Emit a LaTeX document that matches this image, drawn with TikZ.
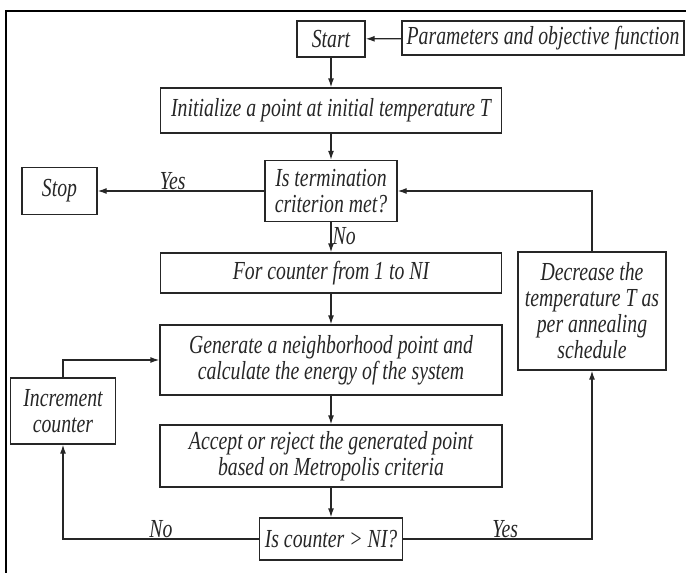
\documentclass[tikz,border=0pt]{standalone}
\usepackage{fontspec}
\newfontfamily\flowfont[FakeStretch=0.76]{Liberation Serif}
\usepackage{tikz}
\usetikzlibrary{arrows.meta}
\usetikzlibrary{positioning}
\tikzset{
	>={Latex[length=9pt,width=6pt]},
	block/.style={draw=black!85, line width=1.3pt, align=center, inner sep=2pt,
		font=\flowfont\itshape\fontsize{26}{26}\selectfont, text=black!85},
	flow/.style={draw=black!85, line width=1.3pt, ->},
	answer/.style={font=\flowfont\itshape\fontsize{26}{26}\selectfont, text=black!85, inner sep=1pt},
}
\begin{document}
\begin{tikzpicture}[x=1pt,y=-1pt]
	\useasboundingbox (0,0) rectangle (686,573);
	% frame
	\draw[line width=2pt] (686,11) -- (6,11) -- (6,573);
	% boxes
	\node[block, minimum width=68pt, minimum height=36pt] (start) at (331,39) {Start};
	\node[block, minimum width=282pt, minimum height=34pt] (param) at (543,38) {Parameters and objective function};
	\node[block, minimum width=341pt, minimum height=45pt] (init) at (331,110.5) {Initialize a point at initial temperature T};
	\node[block, minimum width=132pt, minimum height=61pt] (term) at (331,191) {Is termination\\criterion met?};
	\node[block, minimum width=75pt, minimum height=47pt] (stop) at (59.5,191) {Stop};
	\node[block, minimum width=341pt, minimum height=40pt] (loop) at (331,273) {For counter from 1 to NI};
	\node[block, minimum width=342pt, minimum height=70pt] (gen) at (331,360) {Generate a neighborhood point and\\calculate the energy of the system};
	\node[block, minimum width=342pt, minimum height=62pt] (accept) at (331,456) {Accept or reject the generated point\\based on Metropolis criteria};
	\node[block, minimum width=143pt, minimum height=42pt] (check) at (331,539) {Is counter > NI?};
	\node[block, minimum width=148pt, minimum height=118pt] (decr) at (592,311) {Decrease the\\temperature T as\\per annealing\\schedule};
	\node[block, minimum width=105pt, minimum height=66pt] (incr) at (63,411) {Increment\\counter};
	% connectors
	\draw[flow] (param) -- (start);
	\draw[flow] (start) -- (init);
	\draw[flow] (init) -- (term);
	\draw[flow] (term) -- node[answer, right, pos=0.45] (no1) {No} (loop);
	\draw[flow] (loop) -- (gen);
	\draw[flow] (gen) -- (accept);
	\draw[flow] (accept) -- (check);
	\draw[flow] (term) -- node[answer, above, pos=0.55] (yes1) {Yes} (stop);
	\draw[flow] (check.west) -| node[answer, above, pos=0.25] (no2) {No} (incr.south);
	\draw[flow] (check.east) -| node[answer, above, pos=0.27] (yes2) {Yes} (decr.south);
	\draw[flow] (decr.north) |- (term.east);
	\draw[flow] (incr.north) |- (gen.west);
\end{tikzpicture}
\end{document}
